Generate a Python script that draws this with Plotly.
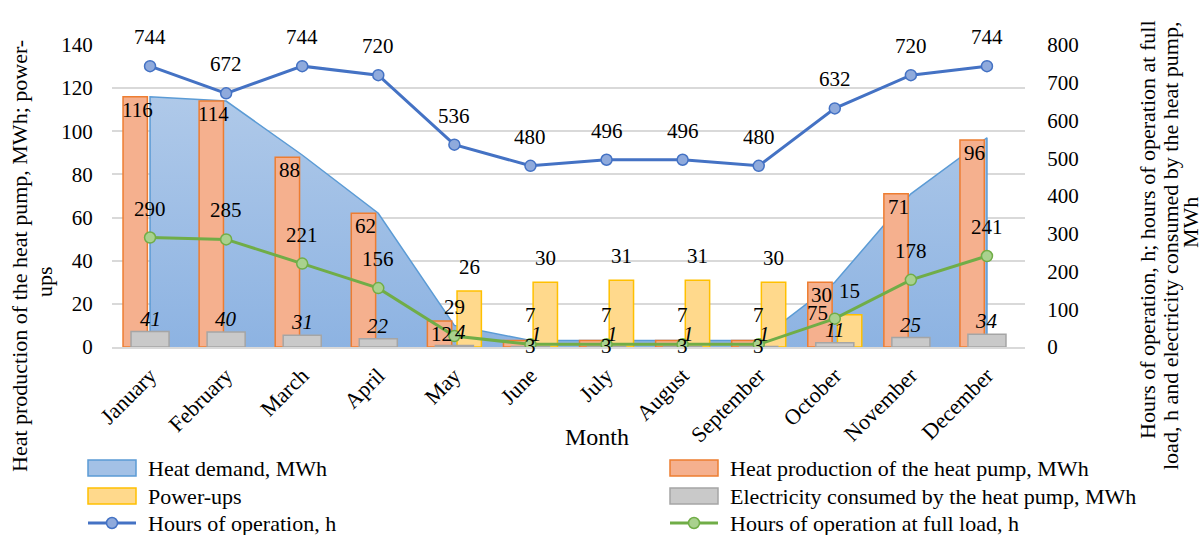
import plotly.graph_objects as go

# ---- data -------------------------------------------------------------
months = ["January", "February", "March", "April", "May", "June", "July",
          "August", "September", "October", "November", "December"]
heat_demand = [116, 114, 89, 62, 10, 3, 3, 3, 3, 30, 71, 97]
heat_production = [116, 114, 88, 62, 12, 3, 3, 3, 3, 30, 71, 96]
power_ups = [None, None, None, None, 26, 30, 31, 31, 30, 15, None, None]
electricity = [41, 40, 31, 22, 4, 1, 1, 1, 1, 11, 25, 34]
hours_operation = [744, 672, 744, 720, 536, 480, 496, 496, 480, 632, 720, 744]
hours_full_load = [290, 285, 221, 156, 29, 7, 7, 7, 7, 75, 178, 241]

left_ticks = [0, 20, 40, 60, 80, 100, 120, 140]
right_ticks = [0, 100, 200, 300, 400, 500, 600, 700, 800]

# ---- styling / geometry ----------------------------------------------
FONT = "Liberation Serif, Times New Roman, serif"
W, H = 1203, 535
L, R, T, B = 112, 1025, 45, 347          # plot area edges in pixels

C_DEMAND_LINE = "#5B9BD5"
C_PROD, C_PROD_LINE = "#F5B08E", "#ED7D31"
C_PUP, C_PUP_LINE = "#FFD98C", "#FFC000"
C_ELEC, C_ELEC_LINE = "#C9C9C9", "#A5A5A5"
C_HOURS, C_HOURS_MK = "#4472C4", "#8FAADC"
C_FULL, C_FULL_MK = "#70AD47", "#A9D18E"
C_GRID = "#D9D9D9"

PROD_OFF, PROD_W = -0.355, 0.32
PUP_OFF, PUP_W = 0.035, 0.32
ELEC_OFF, ELEC_W = -0.25, 0.5

idx = list(range(len(months)))


def px_x(px):
    return (px - L) / (R - L)


def px_y(py):
    return (B - py) / (B - T)


fig = go.Figure()

# heat demand as a filled area (bottom layer, primary axis)
fig.add_trace(go.Scatter(
    x=[idx[0]] + idx + [idx[-1]],
    y=[0] + heat_demand + [0],
    mode="lines", fill="tozeroy",
    line=dict(color=C_DEMAND_LINE, width=1.5),
    fillgradient=dict(type="vertical", start=0, stop=max(heat_demand),
                      colorscale=[[0, "#8DB3E2"], [1, "#AFC9E9"]]),
    yaxis="y", showlegend=False, hoverinfo="skip"))

# heat production and power-ups bars (primary scale, drawn above the area)
fig.add_trace(go.Bar(
    x=idx, y=heat_production, offset=PROD_OFF, width=PROD_W,
    marker=dict(color=C_PROD, line=dict(color=C_PROD_LINE, width=1.5)),
    yaxis="y2", showlegend=False))
fig.add_trace(go.Bar(
    x=idx, y=power_ups, offset=PUP_OFF, width=PUP_W,
    marker=dict(color=C_PUP, line=dict(color=C_PUP_LINE, width=1.5)),
    yaxis="y2", showlegend=False))

# electricity bars and hour lines on the secondary scale
fig.add_trace(go.Bar(
    x=idx, y=electricity, offset=ELEC_OFF, width=ELEC_W,
    marker=dict(color=C_ELEC, line=dict(color=C_ELEC_LINE, width=1.5)),
    yaxis="y3", showlegend=False))
fig.add_trace(go.Scatter(
    x=idx, y=hours_operation, mode="lines+markers",
    line=dict(color=C_HOURS, width=3),
    marker=dict(size=11, color=C_HOURS_MK, line=dict(color=C_HOURS, width=1.5)),
    yaxis="y3", showlegend=False))
fig.add_trace(go.Scatter(
    x=idx, y=hours_full_load, mode="lines+markers",
    line=dict(color=C_FULL, width=3),
    marker=dict(size=11, color=C_FULL_MK, line=dict(color=C_FULL, width=1.5)),
    yaxis="y3", showlegend=False))

# ---- data labels ------------------------------------------------------
LBL = dict(family=FONT, size=21, color="black")
ann = []


def label(x, y, text, yref, xshift=0, yshift=0):
    ann.append(dict(x=x, y=y, xref="x", yref=yref, text=text, showarrow=False,
                    font=LBL, xanchor="center", yanchor="middle",
                    xshift=xshift, yshift=yshift))


full_load_nudge = {9: (-17, 6)}

for i in idx:
    label(i, hours_operation[i], f"{hours_operation[i]}", "y3", yshift=29)
    dx, dy = full_load_nudge.get(i, (0, 29))
    label(i, hours_full_load[i], f"{hours_full_load[i]}", "y3", xshift=dx, yshift=dy)
    elec_dx = 6 if electricity[i] < 5 else 0
    label(i, electricity[i], f"<i>{electricity[i]}</i>", "y3",
          xshift=elec_dx, yshift=13)
    if heat_production[i] >= 10:
        label(i + PROD_OFF + PROD_W / 2, heat_production[i],
              f"{heat_production[i]}", "y", xshift=2, yshift=-13)
    else:
        label(i, 0, f"{heat_production[i]}", "y", yshift=1)
    if power_ups[i] is not None:
        label(i + PUP_OFF + PUP_W / 2, power_ups[i], f"{power_ups[i]}", "y",
              yshift=24)

# ---- axis titles ------------------------------------------------------
TITLE = dict(family=FONT, size=22, color="black")
ann.append(dict(x=px_x(597), y=px_y(437), xref="paper", yref="paper",
                text="Month", showarrow=False,
                font=dict(family=FONT, size=24, color="black"),
                xanchor="center", yanchor="middle"))

left_title = [("Heat production of the heat pump, MWh; power-", 19, 256),
              ("ups", 44, 282)]
right_title = [("Hours of operation, h; hours of operation at full", 1147, 230),
               ("load, h and electricity consumed by the heat pump,", 1170, 246),
               ("MWh", 1190, 223)]
for text, cx, cy in left_title + right_title:
    ann.append(dict(x=px_x(cx), y=px_y(cy), xref="paper", yref="paper",
                    text=text, showarrow=False, font=TITLE, textangle=-90,
                    xanchor="center", yanchor="middle", borderpad=0))

# ---- legend (two columns, three rows) ---------------------------------
shapes = []
legend_rows = [468, 496, 523]
legend_cols = [88, 670]
legend_entries = [
    ("Heat demand, MWh", "rect", "#A3C1E6", C_DEMAND_LINE, 0, 0),
    ("Heat production of the heat pump, MWh", "rect", C_PROD, C_PROD_LINE, 0, 1),
    ("Power-ups", "rect", C_PUP, C_PUP_LINE, 1, 0),
    ("Electricity consumed by the heat pump, MWh", "rect", C_ELEC, C_ELEC_LINE, 1, 1),
    ("Hours of operation, h", "line", C_HOURS_MK, C_HOURS, 2, 0),
    ("Hours of operation at full load, h", "line", C_FULL_MK, C_FULL, 2, 1),
]
for name, kind, fill, edge, r, c in legend_entries:
    x0, yc = legend_cols[c], legend_rows[r]
    if kind == "rect":
        shapes.append(dict(type="rect", xref="paper", yref="paper",
                           x0=px_x(x0), x1=px_x(x0 + 48),
                           y0=px_y(yc + 8), y1=px_y(yc - 8),
                           fillcolor=fill, line=dict(color=edge, width=1.5)))
    else:
        shapes.append(dict(type="line", xref="paper", yref="paper",
                           x0=px_x(x0), x1=px_x(x0 + 48),
                           y0=px_y(yc), y1=px_y(yc),
                           line=dict(color=edge, width=3)))
        shapes.append(dict(type="circle", xref="paper", yref="paper",
                           x0=px_x(x0 + 18.5), x1=px_x(x0 + 29.5),
                           y0=px_y(yc + 5.5), y1=px_y(yc - 5.5),
                           fillcolor=fill, line=dict(color=edge, width=1.5)))
    ann.append(dict(x=px_x(x0 + 58), y=px_y(yc), xref="paper", yref="paper",
                    text=name, showarrow=False,
                    font=dict(family=FONT, size=22, color="black"),
                    xanchor="left", yanchor="middle"))

# ---- layout -----------------------------------------------------------
fig.update_layout(
    width=W, height=H,
    margin=dict(l=L, r=W - R, t=T, b=H - B, pad=0),
    paper_bgcolor="white", plot_bgcolor="white",
    barmode="overlay", showlegend=False,
    font=dict(family=FONT, size=21, color="black"),
    xaxis=dict(range=[-0.5, 11.5], tickmode="array", tickvals=idx,
               ticktext=months, tickangle=-45,
               tickfont=dict(family=FONT, size=22, color="black"),
               ticks="outside", ticklen=5, tickcolor="rgba(0,0,0,0)",
               showgrid=False, zeroline=False,
               showline=True, linecolor=C_GRID, linewidth=2),
    yaxis=dict(range=[0, 140], tickmode="array", tickvals=left_ticks,
               tickfont=dict(family=FONT, size=21, color="black"),
               ticks="outside", ticklen=14, tickcolor="rgba(0,0,0,0)",
               showgrid=True, gridcolor=C_GRID, gridwidth=1.5,
               zeroline=False, showline=False),
    yaxis2=dict(range=[0, 140], overlaying="y", visible=False),
    yaxis3=dict(range=[0, 800], overlaying="y", side="right",
                tickmode="array", tickvals=right_ticks,
                tickfont=dict(family=FONT, size=21, color="black"),
                ticks="outside", ticklen=17, tickcolor="rgba(0,0,0,0)",
                showgrid=False, zeroline=False, showline=False),
    annotations=ann, shapes=shapes,
)

fig.write_html("out.html")
